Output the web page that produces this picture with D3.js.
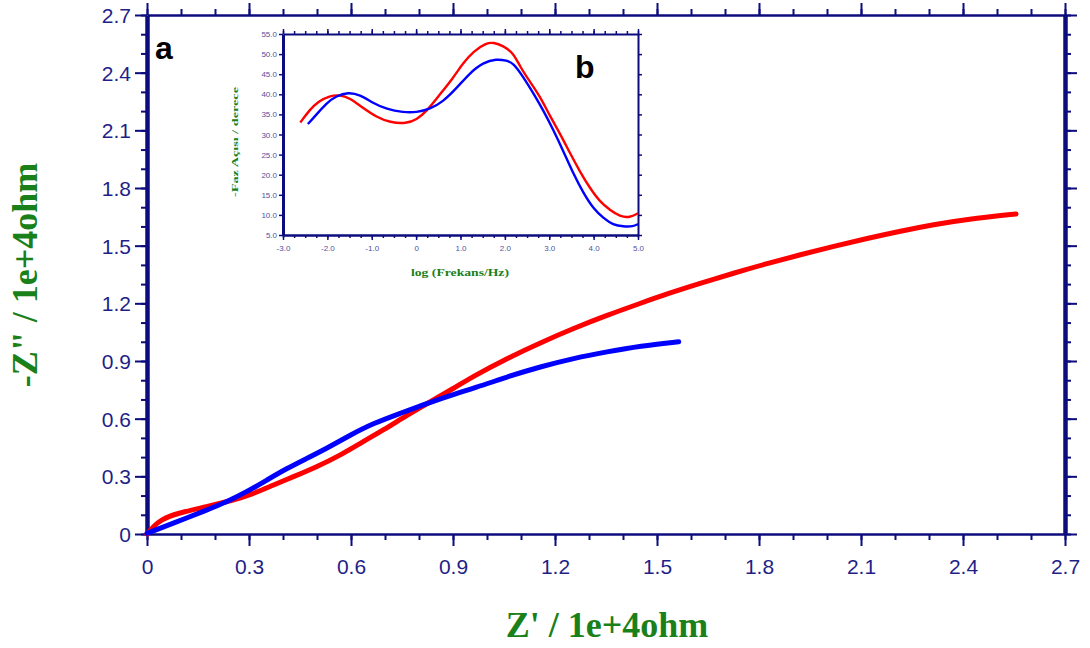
<!DOCTYPE html>
<html>
<head>
<meta charset="utf-8">
<script src="https://d3js.org/d3.v7.min.js"></script>
<style>
  html, body { margin: 0; padding: 0; background: #fff; }
  svg { display: block; }
</style>
</head>
<body>
<svg id="chart" width="1090" height="648"></svg>
<script>
// Nyquist plot: Z' vs -Z'' (units of 1e+4 ohm)
const nyqRedX  = [0, 0.02, 0.04, 0.088, 0.176, 0.255, 0.304, 0.372, 0.431, 0.5, 0.569, 0.627, 0.696, 0.765, 0.833, 0.902, 0.961, 1.059, 1.157, 1.255, 1.353, 1.451, 1.529, 1.627, 1.725, 1.824, 1.922, 2.02, 2.118, 2.216, 2.314, 2.412, 2.556];
const nyqRedY  = [0, 0.04, 0.073, 0.108, 0.142, 0.177, 0.203, 0.255, 0.298, 0.35, 0.41, 0.472, 0.541, 0.619, 0.688, 0.758, 0.822, 0.914, 0.995, 1.07, 1.138, 1.2, 1.249, 1.304, 1.357, 1.407, 1.453, 1.497, 1.538, 1.576, 1.61, 1.638, 1.665];
const nyqBlueX = [0, 0.078, 0.176, 0.235, 0.294, 0.353, 0.412, 0.471, 0.529, 0.598, 0.666, 0.745, 0.824, 0.912, 0.961, 1.059, 1.157, 1.255, 1.353, 1.451, 1.564];
const nyqBlueY = [0.004, 0.056, 0.125, 0.168, 0.22, 0.281, 0.342, 0.394, 0.446, 0.515, 0.576, 0.628, 0.68, 0.732, 0.758, 0.818, 0.87, 0.914, 0.948, 0.978, 1.0];

// Bode phase plot: log(f/Hz) vs -phase angle (degrees)
const phRedX  = [-2.61, -2.40, -2.21, -1.95, -1.72, -1.50, -1.20, -0.89, -0.59, -0.22, 0.01, 0.23, 0.53, 0.83, 1.06, 1.29, 1.59, 1.74, 1.96, 2.19, 2.34, 2.56, 2.79, 3.02, 3.24, 3.47, 3.69, 3.92, 4.14, 4.37, 4.59, 4.82, 5.0];
const phRedY  = [33.0, 36.1, 38.2, 39.6, 39.9, 39.1, 36.6, 34.3, 33.0, 32.7, 33.7, 35.7, 39.9, 44.0, 47.8, 50.7, 52.8, 52.9, 52.1, 50.3, 46.9, 43.2, 39.5, 34.5, 30.3, 25.3, 20.8, 16.6, 13.3, 11.2, 9.6, 9.3, 10.4];
const phBlueX = [-2.44, -2.25, -2.02, -1.80, -1.53, -1.27, -0.97, -0.67, -0.29, 0.01, 0.31, 0.61, 0.91, 1.21, 1.51, 1.81, 2.04, 2.19, 2.41, 2.64, 2.86, 3.09, 3.32, 3.54, 3.77, 3.99, 4.22, 4.44, 4.67, 4.89, 5.0];
const phBlueY = [32.6, 34.9, 37.8, 39.6, 40.5, 39.9, 37.8, 36.3, 35.5, 35.5, 36.3, 38.2, 41.5, 45.3, 47.9, 48.8, 48.4, 47.8, 44.4, 40.3, 36.1, 31.2, 25.8, 20.3, 15.4, 11.6, 9.2, 7.5, 7.1, 7.1, 7.7];

const mainTicks  = ["0", "0.3", "0.6", "0.9", "1.2", "1.5", "1.8", "2.1", "2.4", "2.7"];
const insetXTicks = ["-3.0", "-2.0", "-1.0", "0", "1.0", "2.0", "3.0", "4.0", "5.0"];
const insetYTicks = ["5.0", "10.0", "15.0", "20.0", "25.0", "30.0", "35.0", "40.0", "45.0", "50.0", "55.0"];

const AXIS = "#0c0c7e";
const TICKTXT = "#1f1f88";
const GREEN = "#1a801a";
const RED = "#ff0000";
const BLUE = "#0000ff";

const svg = d3.select("#chart");

// ---------- main plot ----------
const M = { left: 147, right: 1065, top: 15, bottom: 534 };
const x = d3.scaleLinear().domain([0, 2.7]).range([M.left, M.right]);
const y = d3.scaleLinear().domain([0, 2.7]).range([M.bottom, M.top]);

const minor = d3.range(0, 28).map(i => +(i * 0.1).toFixed(1));
const major = mainTicks.map(Number);

function styleAxis(g, w) {
  g.select(".domain").attr("stroke", AXIS).attr("stroke-width", w);
  g.selectAll(".tick line").attr("stroke", AXIS).attr("stroke-width", 2);
}

// minor ticks (no labels)
const minorSets = [
  [d3.axisBottom(x), `translate(0,${M.bottom})`],
  [d3.axisTop(x), `translate(0,${M.top})`],
  [d3.axisLeft(y), `translate(${M.left},0)`],
  [d3.axisRight(y), `translate(${M.right},0)`]
];
minorSets.forEach(([ax, tr]) => {
  const g = svg.append("g").attr("transform", tr)
    .call(ax.tickValues(minor).tickSize(6).tickSizeOuter(0).tickFormat(""));
  g.select(".domain").remove();
  g.selectAll(".tick line").attr("stroke", AXIS).attr("stroke-width", 2);
});

// major ticks + labels
const labelFont = "21px 'Liberation Sans', Arial, sans-serif";
const gxB = svg.append("g").attr("transform", `translate(0,${M.bottom})`)
  .call(d3.axisBottom(x).tickValues(major).tickSize(12).tickSizeOuter(0)
    .tickFormat((d, i) => mainTicks[i]).tickPadding(13));
styleAxis(gxB, 2.5);
gxB.selectAll("text").attr("fill", TICKTXT).style("font", labelFont);

const gxT = svg.append("g").attr("transform", `translate(0,${M.top})`)
  .call(d3.axisTop(x).tickValues(major).tickSize(12).tickSizeOuter(0).tickFormat(""));
styleAxis(gxT, 2.5);

const gyL = svg.append("g").attr("transform", `translate(${M.left},0)`)
  .call(d3.axisLeft(y).tickValues(major).tickSize(12).tickSizeOuter(0)
    .tickFormat((d, i) => mainTicks[i]).tickPadding(4));
styleAxis(gyL, 4.5);
gyL.selectAll("text").attr("fill", TICKTXT).attr("dy", "0.36em").style("font", labelFont);

const gyR = svg.append("g").attr("transform", `translate(${M.right},0)`)
  .call(d3.axisRight(y).tickValues(major).tickSize(12).tickSizeOuter(0).tickFormat(""));
styleAxis(gyR, 4.5);

// data curves (smoothed through the sampled points)
const nyqLine = d3.line().x(d => x(d[0])).y(d => y(d[1])).curve(d3.curveBasis);
const redPts = nyqRedX.map((v, i) => [v, nyqRedY[i]]);
const bluePts = nyqBlueX.map((v, i) => [v, nyqBlueY[i]]);
svg.append("path").attr("d", nyqLine(redPts)).attr("fill", "none")
  .attr("stroke", RED).attr("stroke-width", 5).attr("stroke-linecap", "round");
svg.append("path").attr("d", nyqLine(bluePts)).attr("fill", "none")
  .attr("stroke", BLUE).attr("stroke-width", 5).attr("stroke-linecap", "round");

// axis titles
const titleFont = "bold 36px 'Liberation Serif', 'Times New Roman', serif";
svg.append("text").attr("x", 607).attr("y", 637).attr("text-anchor", "middle")
  .attr("fill", GREEN).style("font", titleFont).text("Z' / 1e+4ohm");
svg.append("text").attr("transform", "translate(37,275) rotate(-90)").attr("text-anchor", "middle")
  .attr("fill", GREEN).style("font", titleFont).text("-Z\" / 1e+4ohm");

svg.append("text").attr("x", 155).attr("y", 59).attr("fill", "#000")
  .style("font", "bold 32px 'Liberation Sans', Arial, sans-serif").text("a");

// ---------- inset: phase angle ----------
const I = { left: 283, right: 638, top: 34, bottom: 235 };
const ix = d3.scaleLinear().domain([-3, 5]).range([I.left, I.right]);
const iy = d3.scaleLinear().domain([5, 55]).range([I.bottom, I.top]);

svg.append("rect").attr("x", I.left).attr("y", I.top)
  .attr("width", I.right - I.left).attr("height", I.bottom - I.top).attr("fill", "#fff");

const ixMinor = d3.range(0, 33).map(i => -3 + i * 0.25);
[[d3.axisBottom(ix), `translate(0,${I.bottom})`], [d3.axisTop(ix), `translate(0,${I.top})`]]
  .forEach(([ax, tr]) => {
    const g = svg.append("g").attr("transform", tr)
      .call(ax.tickValues(ixMinor).tickSize(3).tickSizeOuter(0).tickFormat(""));
    g.select(".domain").remove();
    g.selectAll(".tick line").attr("stroke", AXIS).attr("stroke-width", 1.5);
  });

const iFont = "8px 'Liberation Sans', Arial, sans-serif";
const ixMajor = insetXTicks.map(Number);
const iyMajor = insetYTicks.map(Number);

const giB = svg.append("g").attr("transform", `translate(0,${I.bottom})`)
  .call(d3.axisBottom(ix).tickValues(ixMajor).tickSize(5).tickSizeOuter(0)
    .tickFormat((d, i) => insetXTicks[i]).tickPadding(5));
styleAxis(giB, 2.5);
giB.selectAll(".tick line").attr("stroke-width", 1.5);
giB.selectAll("text").attr("fill", "#5050a0").style("font", iFont);

const giT = svg.append("g").attr("transform", `translate(0,${I.top})`)
  .call(d3.axisTop(ix).tickValues(ixMajor).tickSize(5).tickSizeOuter(0).tickFormat(""));
styleAxis(giT, 2);
giT.selectAll(".tick line").attr("stroke-width", 1.5);

const giL = svg.append("g").attr("transform", `translate(${I.left},0)`)
  .call(d3.axisLeft(iy).tickValues(iyMajor).tickSize(4).tickSizeOuter(0)
    .tickFormat((d, i) => insetYTicks[i]).tickPadding(2));
styleAxis(giL, 3);
giL.selectAll(".tick line").attr("stroke-width", 1.5);
giL.selectAll("text").attr("fill", "#5050a0").style("font", iFont);

const giR = svg.append("g").attr("transform", `translate(${I.right},0)`)
  .call(d3.axisRight(iy).tickValues(iyMajor).tickSize(4).tickSizeOuter(0).tickFormat(""));
styleAxis(giR, 2);
giR.selectAll(".tick line").attr("stroke-width", 1.5);

const phLine = d3.line().x(d => ix(d[0])).y(d => iy(d[1])).curve(d3.curveBasis);
svg.append("path").attr("d", phLine(phRedX.map((v, i) => [v, phRedY[i]])))
  .attr("fill", "none").attr("stroke", RED).attr("stroke-width", 2.4);
svg.append("path").attr("d", phLine(phBlueX.map((v, i) => [v, phBlueY[i]])))
  .attr("fill", "none").attr("stroke", BLUE).attr("stroke-width", 2.4);

svg.append("text").attr("x", 460).attr("y", 276).attr("text-anchor", "middle")
  .attr("fill", GREEN).attr("textLength", 98).attr("lengthAdjust", "spacingAndGlyphs")
  .style("font", "bold 10px 'Liberation Serif', 'Times New Roman', serif")
  .text("log (Frekans/Hz)");
svg.append("text").attr("transform", "translate(238,142) rotate(-90)").attr("text-anchor", "middle")
  .attr("fill", GREEN).attr("textLength", 110).attr("lengthAdjust", "spacingAndGlyphs")
  .style("font", "bold 9px 'Liberation Serif', 'Times New Roman', serif")
  .text("-Faz Açısı / derece");

svg.append("text").attr("x", 575).attr("y", 78).attr("fill", "#000")
  .style("font", "bold 32px 'Liberation Sans', Arial, sans-serif").text("b");
</script>
</body>
</html>
